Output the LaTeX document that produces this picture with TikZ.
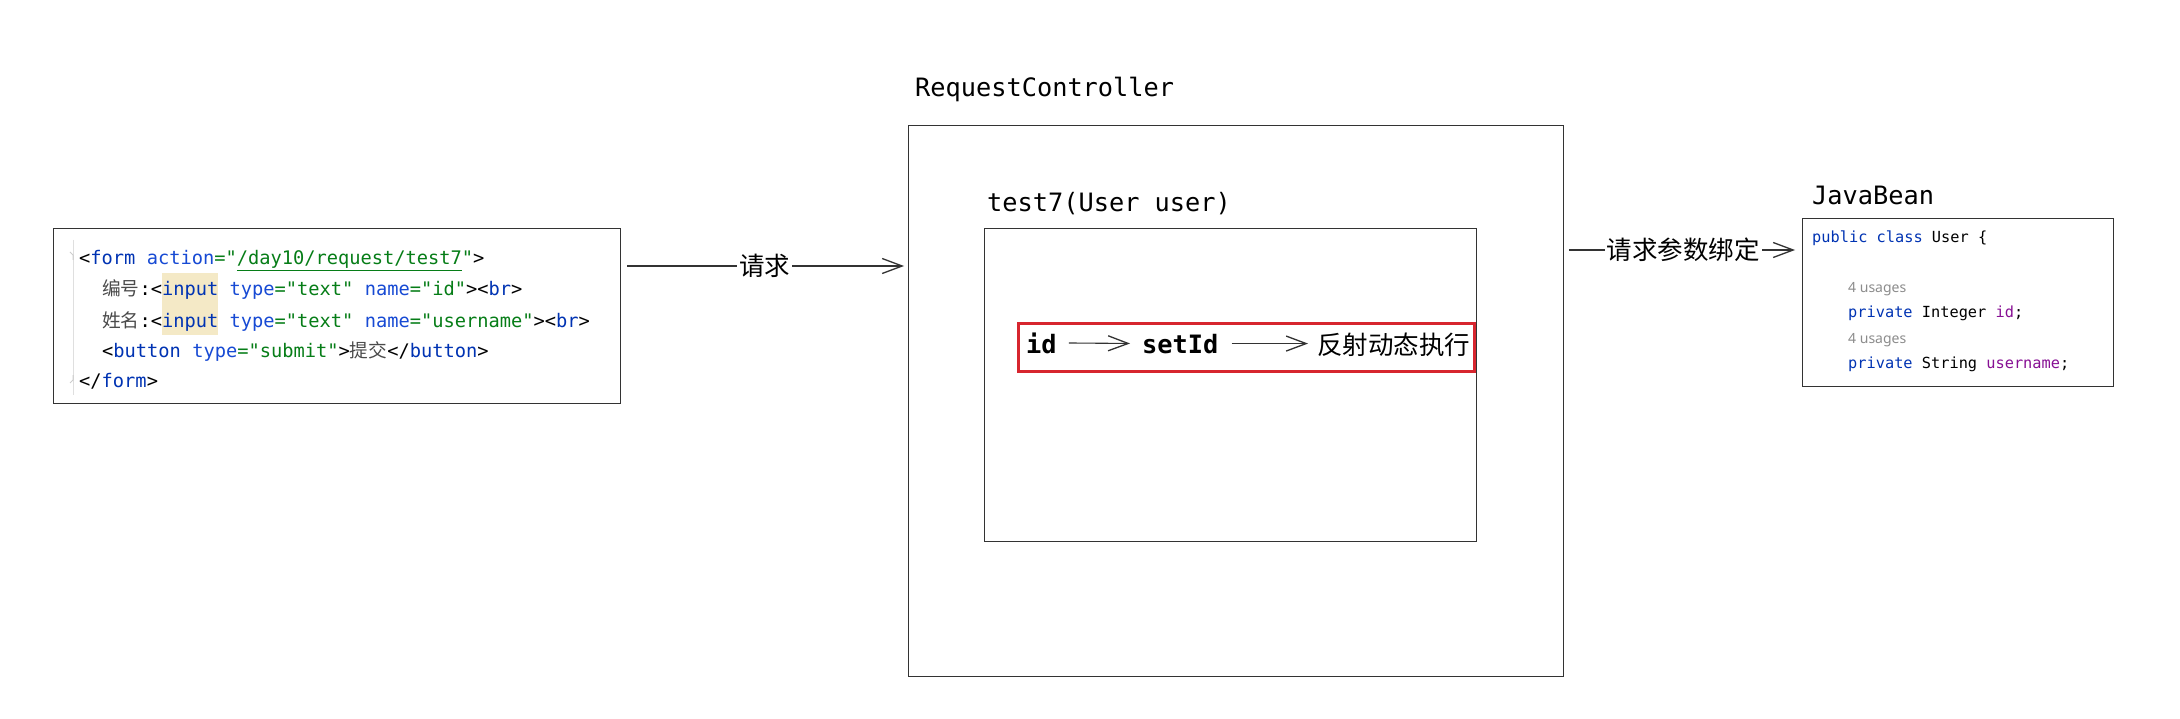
\documentclass[tikz,border=0pt]{standalone}
\usepackage{fontspec}
\setmonofont{DejaVu Sans Mono}
\newfontfamily\cjk{Noto Sans CJK SC}
\newfontfamily\uisans{Noto Sans}
\usetikzlibrary{arrows.meta}
\definecolor{tagc}{HTML}{0033B3}
\definecolor{attc}{HTML}{174AD4}
\definecolor{strc}{HTML}{067D17}
\definecolor{fldc}{HTML}{871094}
\definecolor{usgc}{HTML}{8C8C8C}
\definecolor{hlc}{HTML}{F4E9C6}
\definecolor{redc}{HTML}{D7262F}
\definecolor{linec}{HTML}{333333}
\definecolor{cjkc}{HTML}{4A4A4A}
\newsavebox\hlsave
\newcommand\hlbox[1]{\sbox\hlsave{#1}\rlap{\textcolor{hlc}{\rule[-8pt]{\wd\hlsave}{31pt}}}\usebox\hlsave}
\newcommand\cTag[1]{\textcolor{tagc}{#1}}
\newcommand\cAtt[1]{\textcolor{attc}{#1}}
\newcommand\cStr[1]{\textcolor{strc}{#1}}
\newcommand\cKw[1]{\textcolor{tagc}{#1}}
\newcommand\cFld[1]{\textcolor{fldc}{#1}}
\newcommand\cUsg[1]{{\uisans\fontsize{14pt}{16pt}\selectfont\textcolor{usgc}{#1}}}
\newcommand\cCjk[1]{{\cjk\textcolor{cjkc}{#1}}}
\begin{document}
\begin{tikzpicture}[x=1pt,y=-1pt,
  box/.style={draw=linec, line width=1.3pt, inner sep=0pt, anchor=north west},
  redbox/.style={draw=redc, line width=3pt, inner sep=0pt, anchor=north west},
  title/.style={font=\ttfamily\fontsize{25.3pt}{30pt}\selectfont, inner sep=0pt, anchor=base west},
  formcode/.style={font=\ttfamily\fontsize{18.7pt}{22pt}\selectfont, inner sep=0pt, anchor=base west},
  beancode/.style={font=\ttfamily\fontsize{15.3pt}{18pt}\selectfont, inner sep=0pt, anchor=base west},
  bold/.style={font=\ttfamily\bfseries\fontsize{25.3pt}{30pt}\selectfont, inner sep=0pt, anchor=base west},
  cn/.style={font=\cjk\fontsize{25.5pt}{30pt}\selectfont},
  lbl/.style={cn, fill=white, inner xsep=2pt, inner ysep=0pt},
  arr/.style={draw=linec, line width=1.3pt, -{Straight Barb[length=20pt,width=15pt,line width=1.3pt]}},
]
\path[use as bounding box, fill=white] (0,0) rectangle (2180,719);

% form box
\node[box, minimum width=567pt, minimum height=175pt] (form) at (53,228) {};
\draw[gray!25, line width=1pt] (73,240) -- (73,395);
\draw[gray!40, line width=1pt] (70,252) -- (73,255) -- (73,260);
\draw[gray!40, line width=1pt] (70,383) -- (73,380) -- (73,375);
\node[formcode] (f1) at (79,265) {<\cTag{form} \cAtt{action}\cStr{="\underline{/day10/request/test7}"}>};
\node[formcode] (f2) at (102,296) {\cCjk{编号}:<\hlbox{\cTag{input}} \cAtt{type}\cStr{="text"} \cAtt{name}\cStr{="id"}><\cTag{br}>};
\node[formcode] (f3) at (102,327) {\cCjk{姓名}:<\hlbox{\cTag{input}} \cAtt{type}\cStr{="text"} \cAtt{name}\cStr{="username"}><\cTag{br}>};
\node[formcode] (f4) at (102,358) {<\cTag{button} \cAtt{type}\cStr{="submit"}>\cCjk{提交}</\cTag{button}>};
\node[formcode] (f5) at (79,388) {</\cTag{form}>};

% controller
\node[title] (rc) at (915,97) {RequestController};
\node[box, minimum width=655pt, minimum height=551pt] (outer) at (908,125) {};
\node[title] (t7) at (987,212) {test7(User user)};
\node[box, minimum width=492pt, minimum height=313pt] (inner) at (984,228) {};
\node[redbox, minimum width=456pt, minimum height=48pt] (red) at (1017,322) {};
\node[bold] (id) at (1026,353) {id};
\node[bold] (setid) at (1142,353) {setId};
\node[cn, inner sep=0pt, anchor=base west] (refl) at (1317,355) {反射动态执行};
\draw[arr, line width=1.1pt, shorten <=12pt, shorten >=12pt] (id.east) -- (setid.west);
\draw[arr, line width=1.1pt, shorten <=13pt, shorten >=9pt] (setid.east) -- (refl.west |- setid.east);

% java bean
\node[title] (jb) at (1812,205) {JavaBean};
\node[box, minimum width=311pt, minimum height=168pt] (bean) at (1802,218) {};
\node[beancode] (b1) at (1812,243) {\cKw{public class} User \{};
\node[beancode] (b2) at (1848,293) {\cUsg{4 usages}};
\node[beancode] (b3) at (1848,318) {\cKw{private} Integer \cFld{id};};
\node[beancode] (b4) at (1848,344) {\cUsg{4 usages}};
\node[beancode] (b5) at (1848,369) {\cKw{private} String \cFld{username};};

% connectors
\coordinate (y1) at (0,266);
\coordinate (y2) at (0,250);
\draw[arr, shorten <=6pt, shorten >=4pt] (form.east |- y1) -- node[lbl] (lb1) {请求} (outer.west |- y1);
\draw[arr, shorten <=5pt, shorten >=7pt] (outer.east |- y2) -- node[lbl] (lb2) {请求参数绑定} (bean.west |- y2);
\end{tikzpicture}
\end{document}
